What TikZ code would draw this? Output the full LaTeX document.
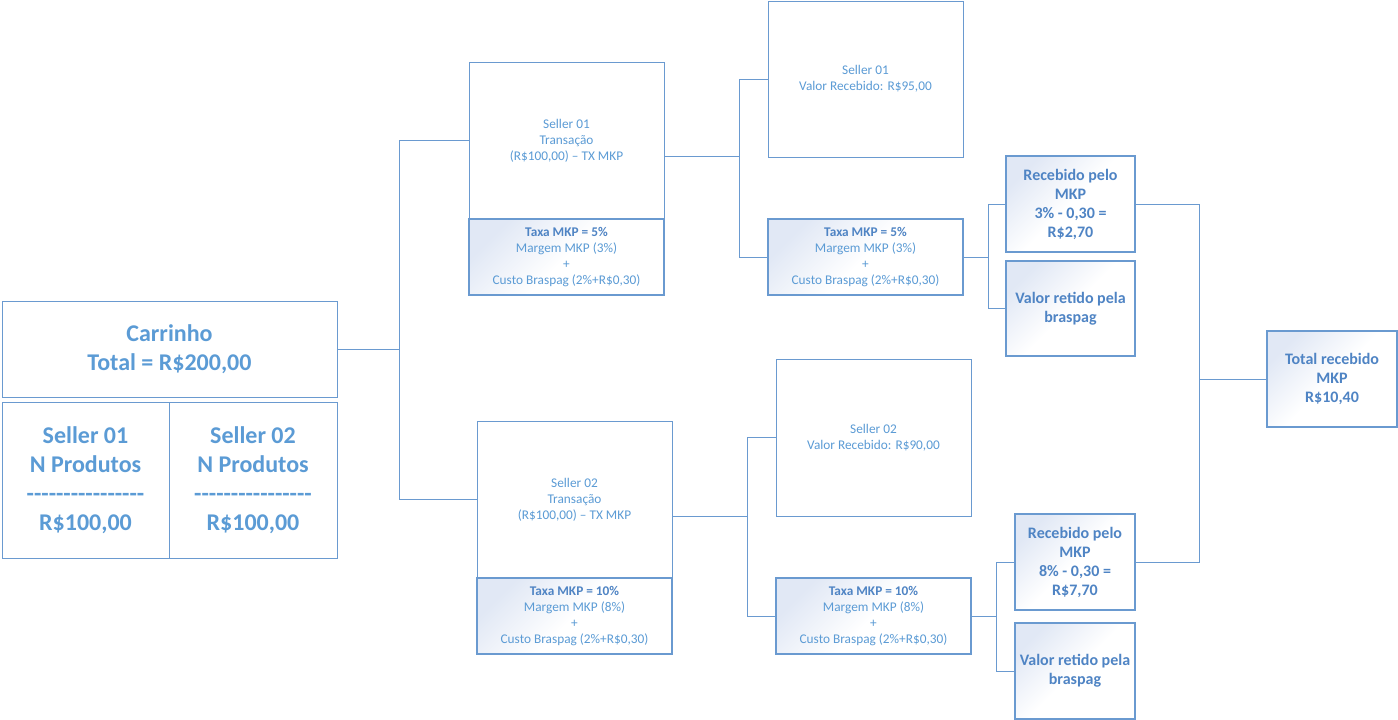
\documentclass[tikz,border=0pt]{standalone}
\usepackage{fontspec}
\setmainfont{Carlito}[Ligatures=TeXOff]
\definecolor{tblue}{HTML}{5B9BD5}
\definecolor{dblue}{HTML}{4F84C4}
\definecolor{lblue}{HTML}{6A9AD0}
\definecolor{gblue}{HTML}{E1E8F5}
\tikzset{
  box/.style={draw=lblue, line width=1pt, rectangle, inner sep=0pt, align=center, text=tblue},
  grad/.style={box, top color=gblue, bottom color=white, middle color=white, shading angle=45, line width=1.2pt},
  big/.style={font=\fontsize{24}{29}\selectfont\bfseries},
  mid/.style={font=\fontsize{16}{19}\selectfont\bfseries, text=dblue},
  small/.style={font=\fontsize{13.3}{16}\selectfont},
  conn/.style={draw=lblue, line width=1pt},
}
\begin{document}
\begin{tikzpicture}[x=1pt,y=-1pt]
\fill[white] (0,0) rectangle (1398,720);
\useasboundingbox (0,0) rectangle (1398,720);
% left
\node[box,big,minimum width=335,minimum height=96] (cart) at (169.5,349) {Carrinho\\Total = R\$200,00};
\node[box,big,minimum width=167,minimum height=156] (s1) at (85.5,480) {Seller 01\\N Produtos\\----------------\\R\$100,00};
\node[box,big,minimum width=168,minimum height=156] (s2) at (253,480) {Seller 02\\N Produtos\\----------------\\R\$100,00};
% top branch
\node[box,small,minimum width=195,minimum height=157] (t1) at (566.5,140.5) {Seller 01\\Transação\\(R\$100,00) – TX MKP};
\node[grad,small,minimum width=195,minimum height=76] (tx1) at (566.5,257) {\textcolor{dblue}{\bfseries Taxa MKP = 5\%}\\Margem MKP (3\%)\\+\\Custo Braspag (2\%+R\$0,30)};
\node[box,small,minimum width=195,minimum height=156] (r1) at (865.5,79) {Seller 01\\Valor Recebido: R\$95,00};
\node[grad,small,minimum width=195,minimum height=76] (k1) at (865.5,257) {\textcolor{dblue}{\bfseries Taxa MKP = 5\%}\\Margem MKP (3\%)\\+\\Custo Braspag (2\%+R\$0,30)};
\node[grad,mid,minimum width=129,minimum height=96] (rec1) at (1070.5,204) {Recebido pelo\\MKP\\3\% - 0,30 =\\R\$2,70};
\node[grad,mid,minimum width=129,minimum height=95] (ret1) at (1070.5,308.5) {Valor retido pela\\braspag};
% bottom branch
\node[box,small,minimum width=195,minimum height=157] (t2) at (574.5,499.5) {Seller 02\\Transação\\(R\$100,00) – TX MKP};
\node[grad,small,minimum width=195,minimum height=76] (tx2) at (574.5,616) {\textcolor{dblue}{\bfseries Taxa MKP = 10\%}\\Margem MKP (8\%)\\+\\Custo Braspag (2\%+R\$0,30)};
\node[box,small,minimum width=195,minimum height=157] (r2) at (873.5,437.5) {Seller 02\\Valor Recebido: R\$90,00};
\node[grad,small,minimum width=195,minimum height=76] (k2) at (873.5,616) {\textcolor{dblue}{\bfseries Taxa MKP = 10\%}\\Margem MKP (8\%)\\+\\Custo Braspag (2\%+R\$0,30)};
\node[grad,mid,minimum width=120,minimum height=96] (rec2) at (1075,562) {Recebido pelo\\MKP\\8\% - 0,30 =\\R\$7,70};
\node[grad,mid,minimum width=120,minimum height=96] (ret2) at (1075,671) {Valor retido pela\\braspag};
% total
\node[grad,mid,minimum width=130,minimum height=96] (tot) at (1332,379) {Total recebido\\MKP\\R\$10,40};
% connectors
\draw[conn] (cart.east) -- ++(62,0) |- (t1.west);
\draw[conn] (cart.east) -- ++(62,0) |- (t2.west);
\draw[conn] ([yshift=-16pt]t1.east) -- ++(75,0) |- (r1.west);
\draw[conn] ([yshift=-16pt]t1.east) -- ++(75,0) |- (k1.west);
\draw[conn] ([yshift=-16.5pt]t2.east) -- ++(75,0) |- (r2.west);
\draw[conn] ([yshift=-16.5pt]t2.east) -- ++(75,0) |- (k2.west);
\draw[conn] (k1.east) -- ++(25,0) |- (rec1.west);
\draw[conn] (k1.east) -- ++(25,0) |- (ret1.west);
\draw[conn] (k2.east) -- ++(25,0) |- (rec2.west);
\draw[conn] (k2.east) -- ++(25,0) |- (ret2.west);
\draw[conn] (rec1.east) -- ++(64,0) |- (tot.west);
\draw[conn] (rec2.east) -- ++(64,0) |- (tot.west);
\end{tikzpicture}
\end{document}
